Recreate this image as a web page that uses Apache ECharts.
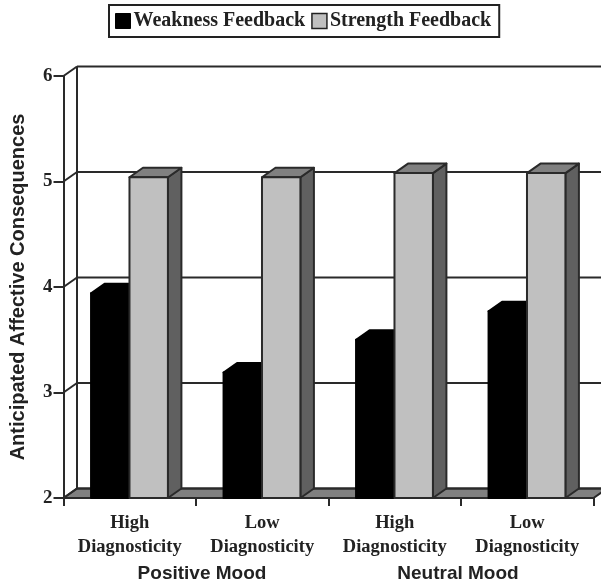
<!DOCTYPE html>
<html>
<head>
<meta charset="utf-8">
<style>
  html, body { margin: 0; padding: 0; background: #fff; }
  #chart { width: 601px; height: 584px; }
</style>
<script src="https://cdn.jsdelivr.net/npm/echarts@6/dist/echarts.min.js"></script>
</head>
<body>
<div id="chart"></div>
<script>
const categories = ['High\nDiagnosticity', 'Low\nDiagnosticity', 'High\nDiagnosticity', 'Low\nDiagnosticity'];
const weakness = [3.94, 3.19, 3.5, 3.77];
const strength = [5.04, 5.04, 5.08, 5.08];
const yTicks = [2, 3, 4, 5, 6];

const INK = '#2a2a2a';
const DX = 13.5, DY = -9.5;   // fake 3d depth
const BAR_W = 0.29, BAR_GAP = 0.208;  // share of the category band

const chart = echarts.init(document.getElementById('chart'));

function renderWall(params, api) {
  const v = api.value(1);
  const band = api.size([1, 0])[0];
  const p = api.coord([0, v]);
  const x0 = p[0] - band / 2;
  const x1 = x0 + band * categories.length;
  const line = { stroke: INK, lineWidth: 2, fill: null };
  const kids = [
    { type: 'line', shape: { x1: x0 + DX, y1: p[1] + DY, x2: x1 + DX, y2: p[1] + DY }, style: line },
    { type: 'line', shape: { x1: x0, y1: p[1], x2: x0 + DX, y2: p[1] + DY }, style: line }
  ];
  if (v === yTicks[0]) {
    const top = api.coord([0, yTicks[yTicks.length - 1]]);
    kids.unshift({
      type: 'polygon',
      shape: { points: [[x0, p[1]], [x0 + DX, p[1] + DY], [x1 + DX, p[1] + DY], [x1, p[1]]] },
      style: { fill: '#808080', stroke: INK, lineWidth: 2 }
    });
    kids.push({ type: 'line', shape: { x1: x0 + DX, y1: p[1] + DY, x2: x0 + DX, y2: top[1] + DY }, style: line });
  }
  return { type: 'group', children: kids };
}

function barRenderer(slot, front, top, side) {
  return function (params, api) {
    const band = api.size([1, 0])[0];
    const p = api.coord([api.value(0), api.value(1)]);
    const base = api.coord([api.value(0), yTicks[0]]);
    const w = band * BAR_W;
    const x = p[0] - band / 2 + band * BAR_GAP + slot * w;
    const y = p[1];
    const s = { stroke: slot === 0 ? '#000' : INK, lineWidth: 2, lineJoin: 'round' };
    return {
      type: 'group',
      children: [
        { type: 'polygon', shape: { points: [[x + w, y], [x + w + DX, y + DY], [x + w + DX, base[1] + DY], [x + w, base[1]]] }, style: { fill: side, ...s } },
        { type: 'polygon', shape: { points: [[x, y], [x + DX, y + DY], [x + w + DX, y + DY], [x + w, y]] }, style: { fill: top, ...s } },
        { type: 'rect', shape: { x: x, y: y, width: w, height: base[1] - y }, style: { fill: front, ...s } }
      ]
    };
  };
}

chart.setOption({
  animation: false,
  backgroundColor: '#fff',
  grid: { left: 63.5, top: 76, width: 530, height: 422, containLabel: false, outerBoundsMode: 'none' },
  legend: {
    top: 5,
    left: 109,
    padding: [6, 8, 6, 6],
    itemGap: 6,
    itemWidth: 15,
    itemHeight: 15,
    borderColor: '#222',
    borderWidth: 2,
    textStyle: { fontFamily: 'Liberation Serif', fontWeight: 'bold', fontSize: 20, color: '#222', padding: [0, 0, 0, -2] },
    data: [
      { name: 'Weakness Feedback', icon: 'rect', itemStyle: { color: '#000', borderColor: '#000', borderWidth: 1 } },
      { name: 'Strength Feedback', icon: 'rect', itemStyle: { color: '#c0c0c0', borderColor: '#222', borderWidth: 1.5 } }
    ]
  },
  xAxis: {
    type: 'category',
    data: categories,
    axisLine: { show: false },
    axisTick: { show: true, length: 8, lineStyle: { color: INK, width: 2 } },
    axisLabel: { fontFamily: 'Liberation Serif', fontWeight: 'bold', fontSize: 18.5, lineHeight: 24, color: '#222', margin: 13, interval: 0 }
  },
  yAxis: {
    type: 'value',
    min: 2,
    max: 6,
    interval: 1,
    name: 'Anticipated Affective Consequences',
    nameLocation: 'middle',
    nameGap: 35,
    nameTextStyle: { fontFamily: 'Liberation Sans', fontWeight: 'bold', fontSize: 20, color: '#222' },
    splitLine: { show: false },
    axisLine: { show: true, lineStyle: { color: INK, width: 2 } },
    axisTick: { show: true, length: 10, lineStyle: { color: INK, width: 2 } },
    axisLabel: { fontFamily: 'Liberation Serif', fontWeight: 'bold', fontSize: 19, color: '#222', margin: 11 }
  },
  series: [
    {
      name: 'walls', type: 'custom', clip: false, z: 1,
      data: yTicks.map(function (v) { return [0, v]; }),
      renderItem: renderWall
    },
    {
      name: 'Weakness Feedback', type: 'custom', clip: false, z: 2,
      itemStyle: { color: '#000' },
      data: weakness.map(function (v, i) { return [i, v]; }),
      renderItem: barRenderer(0, '#000', '#000', '#000')
    },
    {
      name: 'Strength Feedback', type: 'custom', clip: false, z: 3,
      itemStyle: { color: '#c0c0c0' },
      data: strength.map(function (v, i) { return [i, v]; }),
      renderItem: barRenderer(1, '#c0c0c0', '#808080', '#606060')
    }
  ],
  graphic: [
    { type: 'text', x: 202, y: 574, style: { text: 'Positive Mood', font: 'bold 19px "Liberation Sans"', fill: '#222', textAlign: 'center', textVerticalAlign: 'middle' } },
    { type: 'text', x: 458, y: 574, style: { text: 'Neutral Mood', font: 'bold 19px "Liberation Sans"', fill: '#222', textAlign: 'center', textVerticalAlign: 'middle' } }
  ]
});
</script>
</body>
</html>
